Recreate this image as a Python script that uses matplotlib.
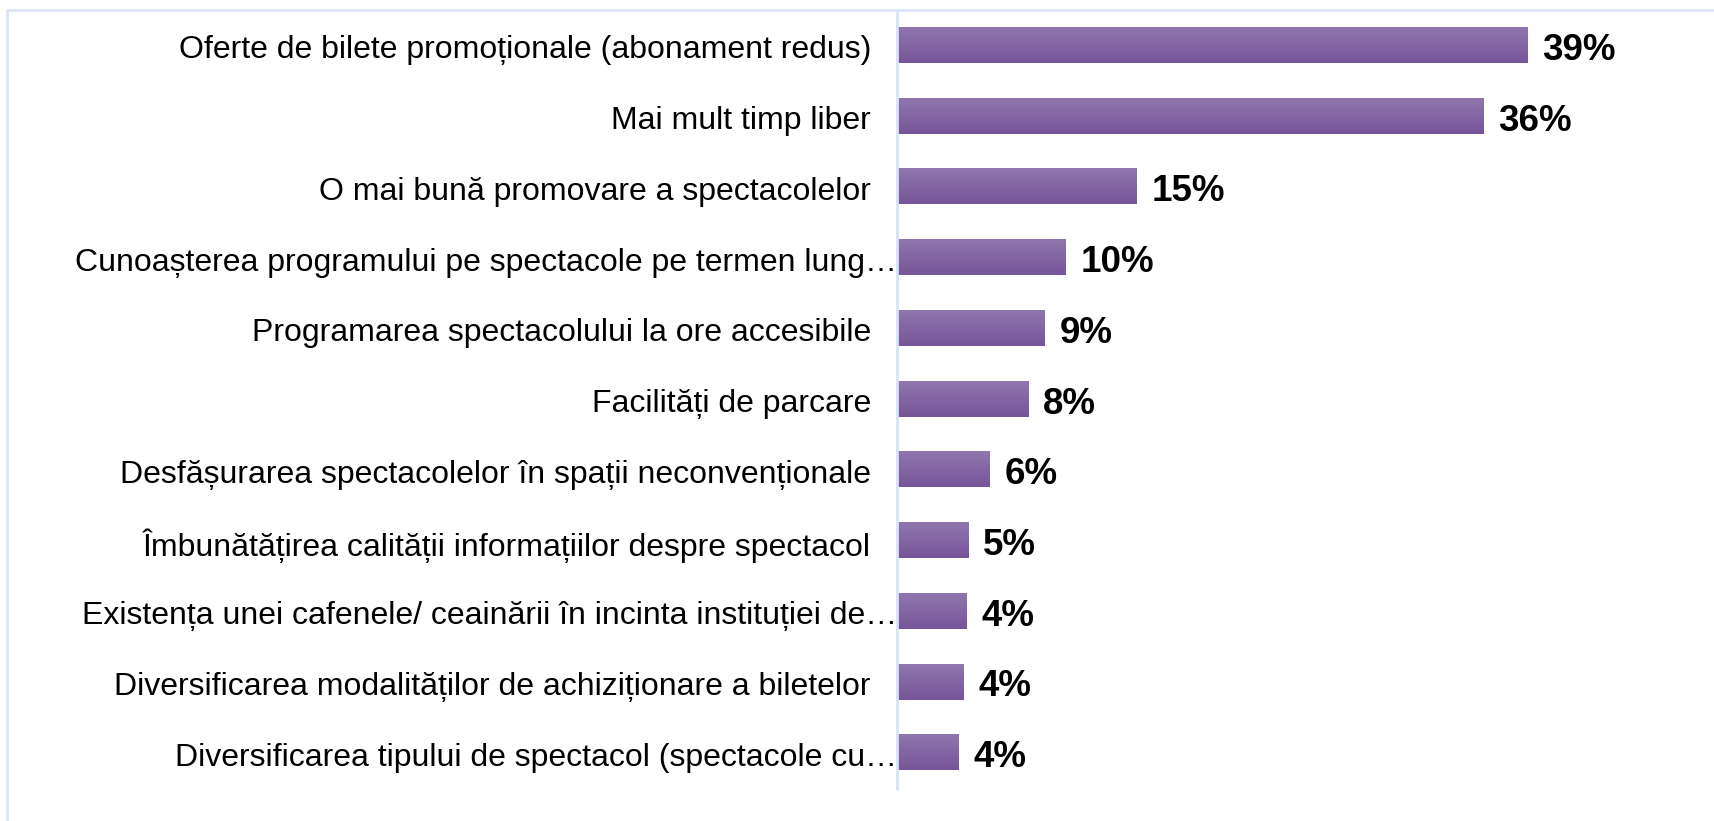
import numpy as np
import matplotlib
matplotlib.use("Agg")
import matplotlib.pyplot as plt
from matplotlib.colors import LinearSegmentedColormap
from matplotlib.lines import Line2D

categories = [
    "Oferte de bilete promoționale (abonament redus)",
    "Mai mult timp liber",
    "O mai bună promovare a spectacolelor",
    "Cunoașterea programului pe spectacole pe termen lung…",
    "Programarea spectacolului la ore accesibile",
    "Facilități de parcare",
    "Desfășurarea spectacolelor în spații neconvenționale",
    "Îmbunătățirea calității informațiilor despre spectacol",
    "Existența unei cafenele/ ceainării în incinta instituției de…",
    "Diversificarea modalităților de achiziționare a biletelor",
    "Diversificarea tipului de spectacol (spectacole cu…",
]
shares = [38.9, 36.2, 14.8, 10.4, 9.1, 8.1, 5.7, 4.4, 4.3, 4.1, 3.8]
share_labels = ["39%", "36%", "15%", "10%", "9%", "8%", "6%", "5%", "4%", "4%", "4%"]

plt.rcParams['font.family'] = ['Liberation Sans', 'DejaVu Sans']

fig = plt.figure(figsize=(17.15, 8.21), dpi=100)
ax = fig.add_axes([897 / 1715, 1 - 788 / 821, 1 - 897 / 1715, 778 / 821])

y = np.arange(len(categories))
bar_h = 0.5
bars = ax.barh(y, shares, height=bar_h, color="none", edgecolor="none")

# vertical gradient, lighter at the top of each bar
cmap = LinearSegmentedColormap.from_list("purp", ["#8f77ae", "#76559a"])
grad = np.linspace(0, 1, 64).reshape(-1, 1)
for yi, v in zip(y, shares):
    ax.imshow(grad, cmap=cmap, aspect="auto", origin="upper",
              extent=(0, v, yi + bar_h / 2, yi - bar_h / 2), zorder=2)

ax.set_xlim(0, 818 / 16.2)
ax.set_ylim(len(categories) - 0.5, -0.5)

for s in ["top", "right", "bottom"]:
    ax.spines[s].set_visible(False)
ax.spines["left"].set_color("#d6e4f5")
ax.spines["left"].set_linewidth(2)
ax.set_xticks([])
ax.set_yticks([])

for yi, cat, v, lab in zip(y, categories, shares, share_labels):
    off = 0 if cat.endswith("…") else -26
    ax.annotate(cat, xy=(0, yi), xycoords=("axes fraction", "data"),
                xytext=(off, -5), textcoords="offset pixels",
                ha="right", va="center", fontsize=23, color="#000000")
    ax.annotate(lab, xy=(v, yi), xytext=(15, -5), textcoords="offset pixels",
                ha="left", va="center", fontsize=26.5, fontweight="bold",
                color="#000000")

# light blue frame of the chart area
fig.add_artist(Line2D([7.5 / 1715, 7.5 / 1715, 1], [0, 1 - 10 / 821, 1 - 10 / 821],
                      transform=fig.transFigure, color="#dbe6f4", lw=2))

fig.savefig("out.png", dpi=100)
